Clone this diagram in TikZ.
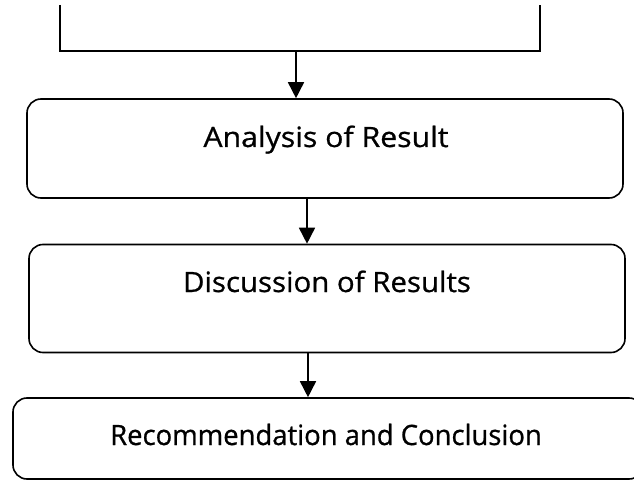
\documentclass[tikz,border=0pt]{standalone}
\usepackage{fontspec}
\setmainfont{Open Sans}
\newfontfamily\lblfont[FakeBold=0.8]{Open Sans}
\usetikzlibrary{arrows.meta}
\begin{document}
\begin{tikzpicture}[x=1pt,y=-1pt,
  box/.style={draw, line width=1.6pt, rounded corners=14pt, inner sep=0pt},
  lbl/.style={anchor=base, inner sep=0pt, font=\lblfont\fontsize{28}{30}\selectfont},
  conn/.style={line width=1.6pt, -{Triangle[width=16pt,length=16pt]}},
  edge/.style={line width=1.6pt}]
\useasboundingbox (0,0) rectangle (634,481);
\begin{scope}
\clip (0,0) rectangle (634,481);
% top bracket (lower part of a previous box)
\coordinate (bl) at (60,5);
\coordinate (br) at (540,5);
\coordinate (b) at (296,51);
\draw[edge] (bl) -- (60,51) -- (540,51) -- (br);
% boxes
\node[box, minimum width=596pt, minimum height=99pt] (box1) at (325,148.5) {};
\node[box, minimum width=596pt, minimum height=108pt] (box2) at (327,298.5) {};
\node[box, minimum width=630pt, minimum height=81pt] (box3) at (328,438.5) {};
% labels
\node[lbl] (t1) at (326,147) {\scalebox{1.08}[1]{Analysis of Result}};
\node[lbl] (t2) at (327,292) {\scalebox{1.05}[1]{Discussion of Results}};
\node[lbl] (t3) at (326,445) {\scalebox{0.98}[1]{Recommendation and Conclusion}};
% connectors
\draw[conn] (b) -- (b |- box1.north);
\coordinate (c2) at (307,0);
\draw[conn] (c2 |- box1.south) -- (c2 |- box2.north);
\coordinate (c3) at (308,0);
\draw[conn] (c3 |- box2.south) -- (c3 |- box3.north);
\end{scope}
\end{tikzpicture}
\end{document}
